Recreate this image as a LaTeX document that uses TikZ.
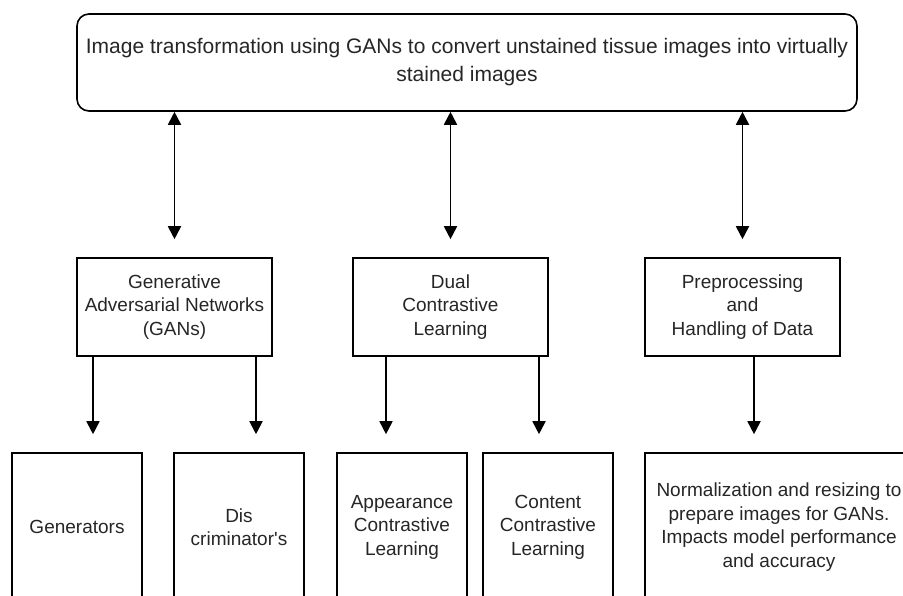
\documentclass[tikz,border=0pt]{standalone}
\usepackage{fontspec}
\setmainfont{Liberation Sans}
\usepackage{tikz}
\usetikzlibrary{arrows.meta,calc}
\tikzset{
  ganbox/.style={draw, line width=1.6pt, align=center, text=black!85,
    font=\fontsize{19}{23.5}\selectfont, inner sep=2pt, fill=white},
  gantop/.style={ganbox, rounded corners=12pt, font=\fontsize{21}{28}\selectfont},
  ganpart/.style={ganbox, minimum width=195pt, minimum height=98pt},
  ganleaf/.style={ganbox, minimum width=130pt, minimum height=148pt},
  ganarrow/.style={-{Triangle[length=13pt, width=13pt]}, line width=1.8pt},
  ganlink/.style={{Triangle[length=13pt, width=13pt]}-{Triangle[length=13pt, width=13pt]}, line width=1.8pt},
}

\begin{document}
\begin{tikzpicture}[x=1pt, y=-1pt]
  \useasboundingbox (0,0) rectangle (903,596);
  \clip (0,0) rectangle (903,596);
  \node[gantop, minimum width=780pt, minimum height=97pt] (top) at (467,62.5) {Image transformation using GANs to convert unstained tissue images into virtually\\stained images};
  \node[ganpart] (gan) at (174.5,307) {Generative\\Adversarial Networks\\(GANs)};
  \node[ganpart] (dual) at (450.5,307) {Dual\\Contrastive\\Learning};
  \node[ganpart] (prep) at (742.5,307) {Preprocessing\\and\\Handling of Data};
  \node[ganleaf] (gen) at (77,527) {Generators};
  \node[ganleaf] (disc) at (239,527) {Dis\\criminator\textquotesingle s};
  \node[ganleaf] (app) at (402,527) {Appearance\\Contrastive\\Learning};
  \node[ganleaf] (cont) at (548,527) {Content\\Contrastive\\Learning};
  \node[ganleaf, minimum width=268pt] (norm) at (779,527) {Normalization and resizing to\\prepare images for GANs.\\Impacts model performance\\and accuracy};
  % links to the main task
  \foreach \n in {gan,dual,prep}
    \draw[ganlink] (top.south -| \n.north) -- ([yshift=18pt]\n.north);
  % sub parts
  \draw[ganarrow] ([xshift=16pt]gen.north |- gan.south) -- ([xshift=16pt,yshift=18pt]gen.north);
  \draw[ganarrow] ([xshift=17pt]disc.north |- gan.south) -- ([xshift=17pt,yshift=18pt]disc.north);
  \draw[ganarrow] ([xshift=-16pt]app.north |- dual.south) -- ([xshift=-16pt,yshift=18pt]app.north);
  \draw[ganarrow] ([xshift=-9pt]cont.north |- dual.south) -- ([xshift=-9pt,yshift=18pt]cont.north);
  \draw[ganarrow] ([xshift=-25pt]norm.north |- prep.south) -- ([xshift=-25pt,yshift=18pt]norm.north);
\end{tikzpicture}
\end{document}
